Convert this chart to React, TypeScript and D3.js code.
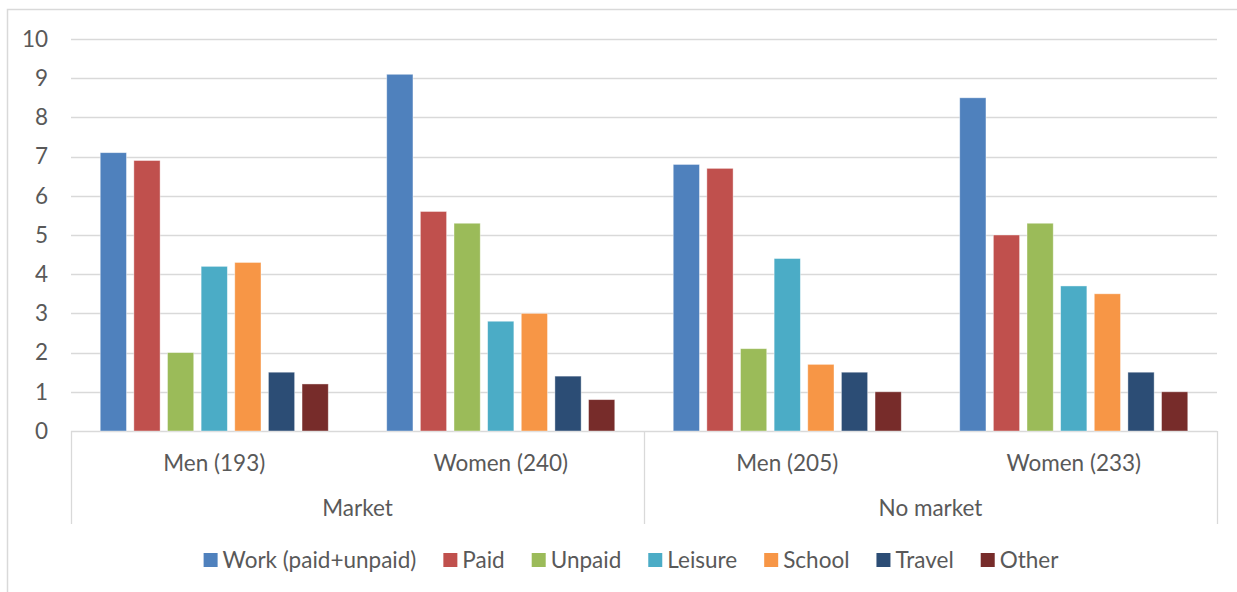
import React, { useEffect, useRef } from "react";
import * as d3 from "d3";

const groups = ["Men (193)", "Women (240)", "Men (205)", "Women (233)"];
const markets = ["Market", "No market"];
const series = ["Work (paid+unpaid)", "Paid", "Unpaid", "Leisure", "School", "Travel", "Other"];
const colors = ["#4F81BD", "#C0504D", "#9BBB59", "#4BACC6", "#F79646", "#2C4D75", "#772C2A"];
const workVals = [7.1, 9.1, 6.8, 8.5];
const paidVals = [6.9, 5.6, 6.7, 5.0];
const unpaidVals = [2.0, 5.3, 2.1, 5.3];
const leisureVals = [4.2, 2.8, 4.4, 3.7];
const schoolVals = [4.3, 3.0, 1.7, 3.5];
const travelVals = [1.5, 1.4, 1.5, 1.5];
const otherVals = [1.2, 0.8, 1.0, 1.0];
const yTicks = [0, 1, 2, 3, 4, 5, 6, 7, 8, 9, 10];

const W = 1237;
const H = 592;
const FONT = "Lato, 'Open Sans', sans-serif";
const FS = 22.5;
const TXT = "#595959";
const GRID = "#D9D9D9";

export default function App() {
  const ref = useRef<SVGSVGElement>(null);

  useEffect(() => {
    const svg = d3.select(ref.current);
    svg.selectAll("*").remove();
    const allVals = [workVals, paidVals, unpaidVals, leisureVals, schoolVals, travelVals, otherVals];

    const left = 71, right = 1217, top = 39, bottom = 431;
    const y = d3.scaleLinear().domain([0, 10]).range([bottom, top]);
    const gx = d3.scaleBand<string>().domain(groups.map((g, i) => i + "")).range([left, right]);
    const gw = gx.bandwidth();
    const outerGap = gw * 0.102;
    const bx = d3.scaleBand<string>().domain(series).range([outerGap, gw - outerGap]).paddingInner(0.22).paddingOuter(0);

    // frame
    svg.append("rect").attr("x", 7.5).attr("y", 9.5).attr("width", W + 20).attr("height", H + 20)
      .attr("fill", "#fff").attr("stroke", GRID).attr("stroke-width", 1.5);

    // gridlines
    svg.append("g").selectAll("line").data(yTicks).join("line")
      .attr("x1", left).attr("x2", right)
      .attr("y1", (d) => Math.round(y(d)) + 0.5).attr("y2", (d) => Math.round(y(d)) + 0.5)
      .attr("stroke", GRID).attr("stroke-width", 1.3);

    // y labels
    svg.append("g").selectAll("text").data(yTicks).join("text")
      .attr("x", 48).attr("y", (d) => y(d)).attr("dy", "0.35em")
      .attr("text-anchor", "end").attr("font-family", FONT).attr("font-size", FS)
      .attr("fill", TXT).text((d) => d);

    // bars
    const bars = svg.append("g");
    groups.forEach((g, gi) => {
      series.forEach((s, si) => {
        const v = allVals[si][gi];
        bars.append("rect")
          .attr("x", (gx(gi + "") as number) + (bx(s) as number))
          .attr("y", y(v))
          .attr("width", bx.bandwidth())
          .attr("height", y(0) - y(v))
          .attr("fill", colors[si])
          .attr("stroke", "#ffffff").attr("stroke-opacity", 0.5).attr("stroke-width", 0.8);
      });
    });

    // category axis separators
    const sepX = [left, gx("2") as number, right];
    svg.append("g").selectAll("line").data(sepX).join("line")
      .attr("x1", (d) => Math.round(d) + 0.5).attr("x2", (d) => Math.round(d) + 0.5)
      .attr("y1", bottom).attr("y2", 524)
      .attr("stroke", GRID).attr("stroke-width", 1.3);

    // group labels
    svg.append("g").selectAll("text").data(groups).join("text")
      .attr("x", (d, i) => (gx(i + "") as number) + gw / 2).attr("y", 463).attr("dy", "0.35em")
      .attr("text-anchor", "middle").attr("font-family", FONT).attr("font-size", FS)
      .attr("fill", TXT).text((d) => d);

    svg.append("g").selectAll("text").data(markets).join("text")
      .attr("x", (d, i) => (gx(i * 2 + "") as number) + gw)
      .attr("y", 508).attr("dy", "0.35em")
      .attr("text-anchor", "middle").attr("font-family", FONT).attr("font-size", FS)
      .attr("fill", TXT).text((d) => d);

    // legend
    const lg = svg.append("g");
    const items: { g: any; w: number }[] = [];
    series.forEach((s, i) => {
      const it = lg.append("g");
      it.append("rect").attr("x", 0).attr("y", -7).attr("width", 14).attr("height", 14).attr("fill", colors[i]);
      const t = it.append("text").attr("x", 19).attr("y", 0).attr("dy", "0.35em")
        .attr("font-family", FONT).attr("font-size", FS).attr("fill", TXT).text(s);
      const tw = (t.node() as SVGTextElement).getComputedTextLength();
      items.push({ g: it, w: 19 + tw });
    });
    const gap = 27;
    const total = d3.sum(items, (d) => d.w) + gap * (items.length - 1);
    let cx = 631 - total / 2;
    items.forEach((d) => {
      d.g.attr("transform", `translate(${cx},560)`);
      cx += d.w + gap;
    });
  }, []);

  return (
    <svg ref={ref} width={W} height={H} style={{ position: "absolute", left: 0, top: 0, background: "#fff" }} />
  );
}
